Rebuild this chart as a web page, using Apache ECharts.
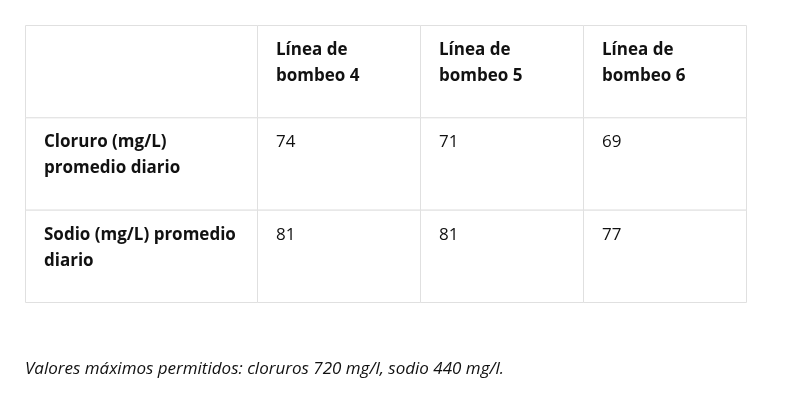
<!DOCTYPE html>
<html><head><meta charset="utf-8">
<script src="https://cdn.jsdelivr.net/npm/echarts@6/dist/echarts.min.js"></script>
<style>html,body{margin:0;padding:0;background:#fff}#c{width:790px;height:409px}</style>
</head><body><div id="c"></div>
<script>
const columns = ["", "Línea de\nbombeo 4", "Línea de\nbombeo 5", "Línea de\nbombeo 6"];
const rowLabels = ["Cloruro (mg/L)\npromedio diario", "Sodio (mg/L) promedio\ndiario"];
const cloruro = [74, 71, 69];
const sodio = [81, 81, 77];
const footnote = "Valores máximos permitidos: cloruros 720 mg/l, sodio 440 mg/l.";
const colEdges = [0, 232, 395, 558, 721];

const cells = [];
columns.forEach((t, c) => cells.push([c, 0, t, 1]));
[cloruro, sodio].forEach((vals, r) => {
  cells.push([0, r + 1, rowLabels[r], 1]);
  vals.forEach((v, i) => cells.push([i + 1, r + 1, String(v), 0]));
});

const chart = echarts.init(document.getElementById('c'));
chart.setOption({
  animation: false,
  grid: { left: 25, top: 25, width: 721, height: 277 },
  xAxis: { type: 'value', min: 0, max: 721, show: false },
  yAxis: { type: 'value', min: 0, max: 3, inverse: true, show: false },
  graphic: [{
    type: 'text', left: 25, top: 361,
    style: { text: footnote, font: 'italic 17px "Open Sans"', fill: '#111' }
  }],
  series: [{
    type: 'custom',
    data: cells,
    renderItem: (params, api) => {
      const c = api.value(0), r = api.value(1);
      const p0 = api.coord([colEdges[c], r]);
      const p1 = api.coord([colEdges[c + 1], r + 1]);
      const d = cells[params.dataIndex];
      return {
        type: 'group',
        children: [
          { type: 'rect', shape: { x: p0[0] + 0.5, y: p0[1] + 0.5, width: p1[0] - p0[0], height: p1[1] - p0[1] },
            style: { fill: '#fff', stroke: '#e0e0e0', lineWidth: 1 } },
          { type: 'text', x: p0[0] + 19, y: p0[1] + 12,
            style: { text: d[2], fill: '#111', lineHeight: 26,
              font: (d[3] ? 'bold ' : '') + '17px "Open Sans"', verticalAlign: 'top' } }
        ]
      };
    }
  }]
});
</script></body></html>
